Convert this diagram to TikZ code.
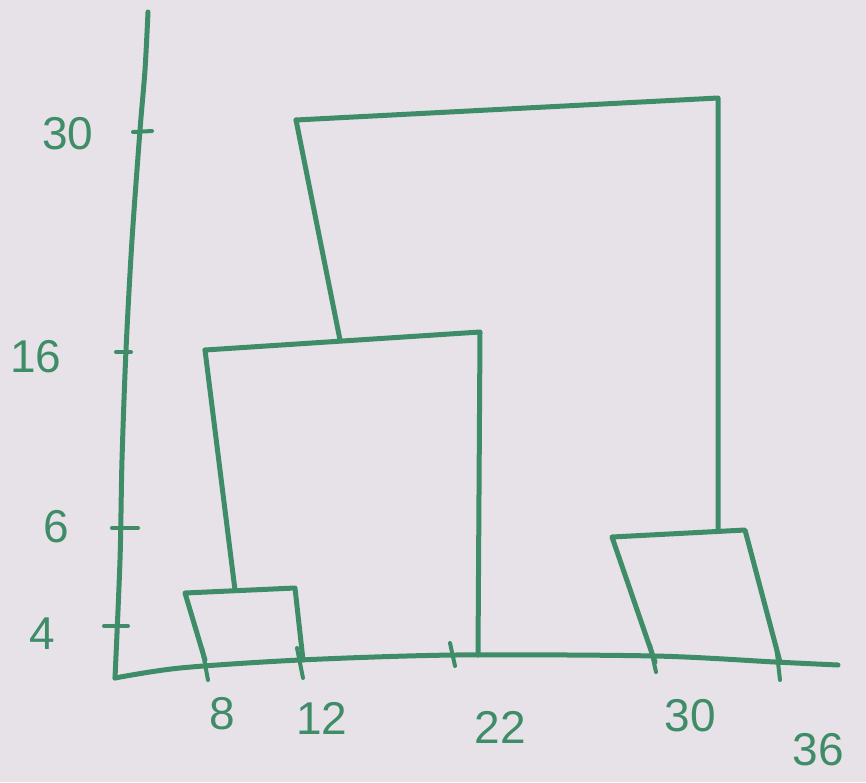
\documentclass[tikz,border=0pt]{standalone}
\usepackage{fontspec}
\setmainfont{Liberation Sans}
\definecolor{paper}{RGB}{231,226,231}
\definecolor{ink}{RGB}{62,140,104}
\begin{document}
\begin{tikzpicture}[x=1pt,y=-1pt,
  pen/.style={draw=ink,line width=5pt,line cap=round,line join=round},
  tickmark/.style={draw=ink,line width=4pt,line cap=round},
  num/.style={text=ink,font=\fontsize{46}{48}\selectfont,inner sep=0pt}]
\fill[paper] (0,0) rectangle (866,782);
\useasboundingbox (0,0) rectangle (866,782);
% axes
\coordinate (o) at (115,678);
\coordinate (ytop) at (148,12);
\coordinate (xend) at (838,665);
\draw[pen] plot[smooth] coordinates {(148,12) (145,70) (140,130) (132,240) (126,350) (122,460) (120,560) (115,678)};
\draw[pen] plot[smooth] coordinates {(115,678) (180,668) (300,660) (455,655) (655,656) (775,662) (838,665)};
% y ticks
\draw[tickmark] (133,132) -- (152,131);
\draw[tickmark] (116,352) -- (131,352);
\draw[tickmark] (112,528) -- (138,528);
\draw[tickmark] (104,626) -- (128,626);
% x ticks
\draw[tickmark] (202,648) -- (208,680);
\draw[tickmark] (297,648) -- (303,678);
\draw[tickmark] (450,643) -- (455,666);
\draw[tickmark] (776,645) -- (780,680);
\draw[tickmark] (650,645) -- (656,672);
% dendrogram points
\coordinate (a1) at (185,593);
\coordinate (a2) at (295,588);
\coordinate (a3) at (235,590);
\coordinate (l8) at (205,660);
\coordinate (l12) at (303,660);
\coordinate (b1) at (205,350);
\coordinate (b2) at (480,332);
\coordinate (b3) at (340,340);
\coordinate (l22) at (478,655);
\coordinate (c1) at (296,120);
\coordinate (c2) at (718,98);
\coordinate (d1) at (612,537);
\coordinate (d2) at (745,530);
\coordinate (d3) at (718,531);
\coordinate (l30) at (655,662);
\coordinate (l36) at (780,662);
% cluster {8,12}
\draw[pen] (l8) -- (a1) -- (a2) -- (l12);
\draw[pen] (a3) -- (b1);
% cluster {8,12,22}
\draw[pen] (b1) -- (b2) -- (l22);
\draw[pen] (b3) -- (c1);
% top merge
\draw[pen] (c1) -- (c2) -- (d3);
% cluster {30,36}
\draw[pen] (l30) -- (d1) -- (d2) -- (l36);
% labels
\node[num] (y30) at (68,134) {30};
\node[num] (y16) at (36,357) {16};
\node[num] (y6) at (56,527) {6};
\node[num] (y4) at (42,634) {4};
\node[num] (x8) at (222,714) {8};
\node[num] (x12) at (322,718) {12};
\node[num] (x22) at (500,727) {22};
\node[num] (x30) at (690,716) {30};
\node[num] (x36) at (818,750) {36};
\end{tikzpicture}
\end{document}
